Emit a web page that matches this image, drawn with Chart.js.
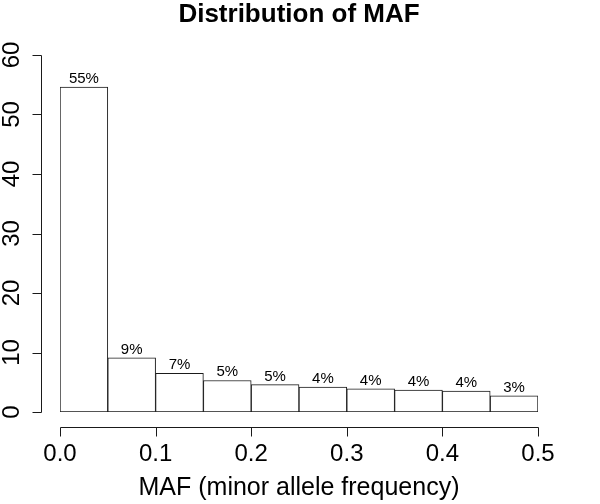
<!DOCTYPE html>
<html>
<head>
<meta charset="utf-8">
<script src="https://cdn.jsdelivr.net/npm/chart.js@4/dist/chart.umd.min.js"></script>
<style>
html,body{margin:0;padding:0;background:#fff;}
#c{display:block;}
</style>
</head>
<body>
<canvas id="c" width="600" height="504"></canvas>
<script>
// ---- data ----
const binLabels = ['0.00-0.05','0.05-0.10','0.10-0.15','0.15-0.20','0.20-0.25','0.25-0.30','0.30-0.35','0.35-0.40','0.40-0.45','0.45-0.50'];
const percentValues = [54.6, 9.1, 6.5, 5.3, 4.6, 4.2, 3.9, 3.7, 3.5, 2.7];
const pctLabels = ['55%','9%','7%','5%','5%','4%','4%','4%','4%','3%'];
const yTicks = [0, 10, 20, 30, 40, 50, 60];
const xTicks = [0.0, 0.1, 0.2, 0.3, 0.4, 0.5];
const xTickLabels = ['0.0','0.1','0.2','0.3','0.4','0.5'];
const titleText = 'Distribution of MAF';
const xTitle = 'MAF (minor allele frequency)';

const FONT = '"Liberation Sans", Arial, Helvetica, sans-serif';
const LINE = '#1a1a1a';

const rAxes = {
  id: 'rAxes',
  afterDraw(chart) {
    const ctx = chart.ctx;
    const y = chart.scales.y;
    const xv = chart.scales.xv;
    ctx.save();
    ctx.strokeStyle = LINE;
    ctx.fillStyle = '#000';
    ctx.lineWidth = 1;

    // Title
    ctx.font = 'bold 26px ' + FONT;
    ctx.textAlign = 'center';
    ctx.textBaseline = 'alphabetic';
    ctx.fillText(titleText, (xv.getPixelForValue(0) + xv.getPixelForValue(0.5)) / 2, 22);

    // Y axis (detached, R style)
    const ax = 41.5;
    ctx.beginPath();
    ctx.moveTo(ax, Math.round(y.getPixelForValue(yTicks[0])) + 0.5);
    ctx.lineTo(ax, Math.round(y.getPixelForValue(yTicks[yTicks.length - 1])) + 0.5);
    yTicks.forEach(t => {
      const py = Math.round(y.getPixelForValue(t)) + 0.5;
      ctx.moveTo(ax, py);
      ctx.lineTo(ax - 9, py);
    });
    ctx.stroke();
    ctx.font = '24px ' + FONT;
    yTicks.forEach(t => {
      const py = y.getPixelForValue(t);
      ctx.save();
      ctx.translate(19, py);
      ctx.rotate(-Math.PI / 2);
      ctx.textAlign = 'center';
      ctx.textBaseline = 'alphabetic';
      ctx.fillText(String(t), 0, 0);
      ctx.restore();
    });

    // X axis (detached)
    const ay = 427.5;
    ctx.beginPath();
    ctx.moveTo(Math.round(xv.getPixelForValue(xTicks[0])) + 0.5, ay);
    ctx.lineTo(Math.round(xv.getPixelForValue(xTicks[xTicks.length - 1])) + 0.5, ay);
    xTicks.forEach(t => {
      const px = Math.round(xv.getPixelForValue(t)) + 0.5;
      ctx.moveTo(px, ay);
      ctx.lineTo(px, ay + 9);
    });
    ctx.stroke();
    ctx.textAlign = 'center';
    ctx.textBaseline = 'alphabetic';
    xTicks.forEach((t, i) => {
      ctx.fillText(xTickLabels[i], xv.getPixelForValue(t), 461);
    });
    ctx.font = '25px ' + FONT;
    ctx.fillText(xTitle, (xv.getPixelForValue(0) + xv.getPixelForValue(0.5)) / 2, 495);

    // Bar labels
    ctx.font = '15px ' + FONT;
    const meta = chart.getDatasetMeta(0);
    meta.data.forEach((bar, i) => {
      ctx.fillText(pctLabels[i], bar.x, bar.y - 4);
    });
    ctx.restore();
  }
};

new Chart(document.getElementById('c'), {
  type: 'bar',
  data: {
    labels: binLabels,
    datasets: [{
      data: percentValues,
      backgroundColor: '#ffffff',
      borderColor: LINE,
      borderWidth: 1,
      borderSkipped: false,
      barPercentage: 1.0,
      categoryPercentage: 1.0
    }]
  },
  options: {
    responsive: false,
    animation: false,
    devicePixelRatio: 1,
    layout: { padding: { left: 60, right: 62, top: 55, bottom: 92 } },
    plugins: { legend: { display: false }, title: { display: false }, tooltip: { enabled: false } },
    scales: {
      x: { type: 'category', display: false, offset: true },
      xv: { type: 'linear', display: false, min: 0, max: 0.5, axis: 'x', offset: false },
      y: { type: 'linear', display: false, min: 0, max: 60 }
    }
  },
  plugins: [rAxes]
});
</script>
</body>
</html>
